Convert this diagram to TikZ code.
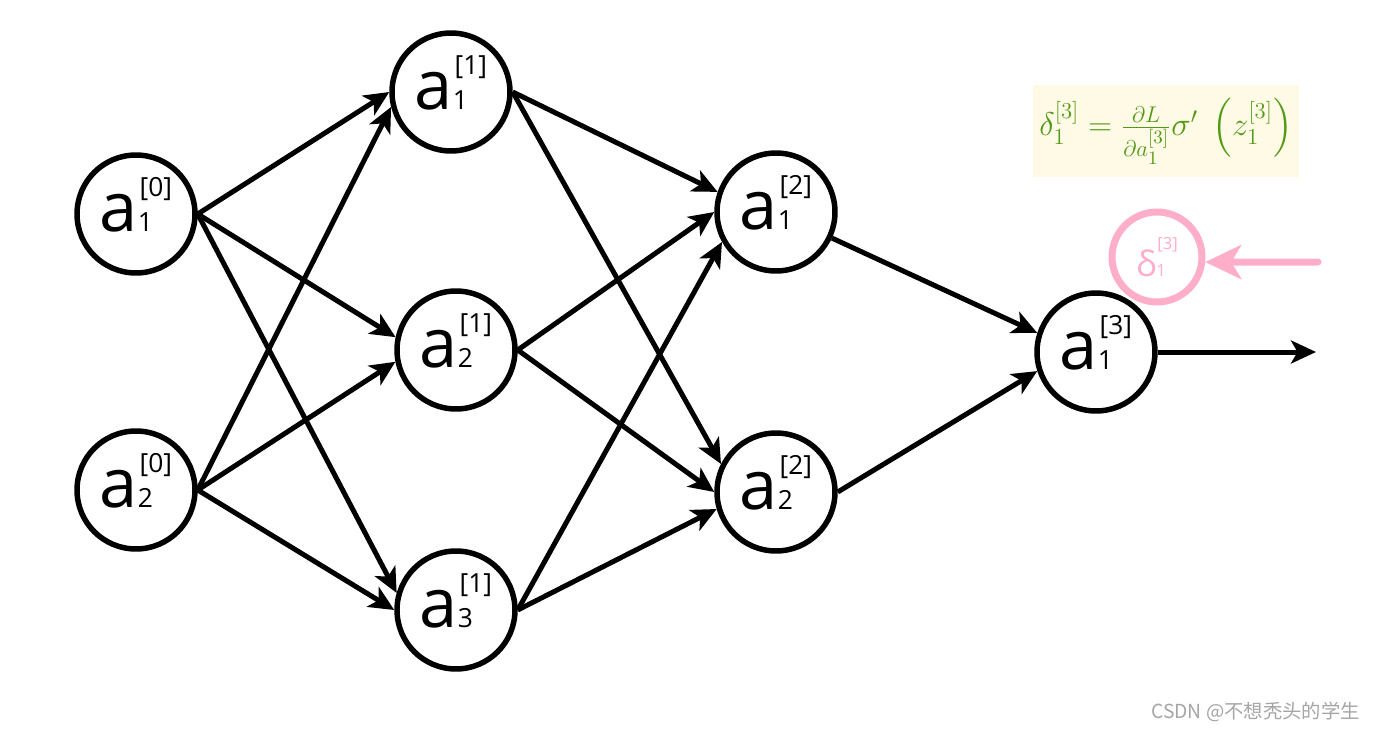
\documentclass[tikz,border=0pt]{standalone}
\usepackage{amsmath}
\usepackage{graphicx}
\usepackage{fontspec}
\setmainfont{Open Sans}
\newfontfamily\cjkfont{Noto Sans CJK SC}
\usetikzlibrary{arrows.meta}

\definecolor{deltapink}{RGB}{255,174,201}
\definecolor{formgreen}{RGB}{82,154,20}
\definecolor{formback}{RGB}{254,250,230}
\definecolor{markgray}{RGB}{165,165,165}

\newcommand{\actlabel}[3]{{\fontsize{39}{39}\selectfont #1}\rlap{\fontsize{15}{15}\selectfont #2}\kern1pt\raisebox{20pt}{\fontsize{15}{15}\selectfont[#3]}}
\newcommand{\errlabel}[3]{{\fontsize{20}{20}\selectfont #1}\rlap{\fontsize{9.5}{9.5}\selectfont #2}\kern0.5pt\raisebox{15pt}{\fontsize{9.5}{9.5}\selectfont[#3]}}

\begin{document}
\begin{tikzpicture}[x=0.02cm,y=-0.02cm]
    \tikzstyle{neuron}=[circle,draw,line width=0.11cm,minimum size=2.36cm,inner sep=0pt,text depth=11pt]
    \tikzstyle{link}=[line width=0.1cm,-{Stealth[length=0.5cm,width=0.46cm,inset=0.13cm]}]
    \useasboundingbox (0,0) rectangle (1380,730);

    \node[neuron] (a10) at (136,214) {\actlabel{a}{1}{0}};
    \node[neuron] (a20) at (136,490) {\actlabel{a}{2}{0}};

    \node[neuron] (a11) at (451,92) {\actlabel{a}{1}{1}};
    \node[neuron] (a21) at (456,350) {\actlabel{a}{2}{1}};
    \node[neuron] (a31) at (456,610) {\actlabel{a}{3}{1}};

    \node[neuron] (a12) at (776,212) {\actlabel{a}{1}{2}};
    \node[neuron] (a22) at (776,492) {\actlabel{a}{2}{2}};

    \node[neuron] (a13) at (1096,352) {\actlabel{a}{1}{3}};
    \coordinate (out) at (1316,352);

    \draw[link] (a10.east) -- (a11.180);
    \draw[link] (a10.east) -- (a21.168);
    \draw[link] (a10.east) -- (a31.164);
    \draw[link] (a20.east) -- (a11.194);
    \draw[link] (a20.east) -- (a21.191);
    \draw[link] (a20.east) -- (a31.180);

    \draw[link] (a11.east) -- (a12.161);
    \draw[link] (a11.east) -- (a22.153);
    \draw[link] (a21.east) -- (a12.180);
    \draw[link] (a21.east) -- (a22.180);
    \draw[link] (a31.east) -- (a12.209);
    \draw[link] (a31.east) -- (a22.196);

    \draw[link] (a12.-25) -- (a13.162);
    \draw[link] (a22.east) -- (a13.198);
    \draw[link] (a13.east) -- (out);

    % backward pass
    \node[circle,draw=deltapink,line width=0.14cm,minimum size=1.8cm,inner sep=0pt,text=deltapink] (d13) at (1157,257) {\errlabel{δ}{1}{3}};
    \coordinate (grad) at (1318,262);
    \draw[deltapink,line width=0.14cm,line cap=round,-{Stealth[length=0.72cm,width=0.68cm,inset=0.2cm]}] (grad) -- (d13.-6);

    \node[fill=formback,text=formgreen,minimum width=5.34cm,minimum height=1.86cm,inner sep=0pt,font=\fontsize{17.28}{21}\selectfont] (eq) at (1166,131)
    {\scalebox{1.08}{$\delta_1^{[3]}=\frac{\partial L}{\partial a_1^{[3]}}\sigma'\;\left(z_1^{[3]}\right)$}};

    \node[anchor=east,text=markgray,font=\cjkfont\fontsize{11}{11}\selectfont] (mark) at (1366,712) {CSDN @不想秃头的学生};
\end{tikzpicture}
\end{document}
